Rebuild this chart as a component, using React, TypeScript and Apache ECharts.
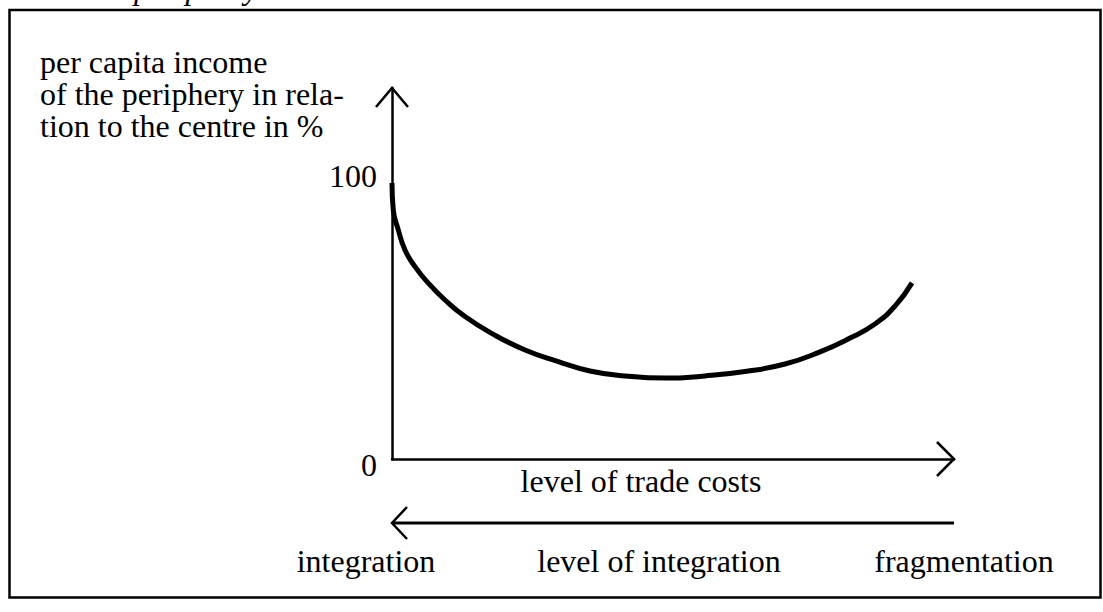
import React, { useEffect, useRef } from 'react';
import * as echarts from 'echarts';

// Curve: per capita income of the periphery (% of centre) vs level of trade costs
const xVals = [0, 0.23, 1.12, 2.31, 4.09, 6.46, 9.43, 12.99, 17.74, 23.67, 29.59, 35.23, 41.46, 48.58, 55.69, 62.81, 69.93, 76.16, 81.49, 85.94, 89.5, 92.53];
const yVals = [100, 90.2, 83.0, 75.7, 69.7, 63.7, 57.6, 51.6, 45.5, 39.5, 35.3, 31.9, 30.1, 29.3, 30.1, 31.7, 34.4, 38.8, 43.8, 48.9, 55.4, 63.8];
const yTickLabels = [0, 100];
const xMax = 100;
const yMax = 134.4;

const titleText = 'periphery';
const yAxisTitle = ['per capita income', 'of the periphery in rela-', 'tion to the centre in %'];
const xAxisTitle = 'level of trade costs';
const lowerLabels = ['integration', 'level of integration', 'fragmentation'];

const FONT = '"Liberation Serif", "Times New Roman", Times, serif';

export default function App() {
  const ref = useRef<HTMLDivElement>(null);
  useEffect(() => {
    const el = ref.current!;
    const chart = echarts.init(el, null, { renderer: 'svg' });
    chart.setOption({
      animation: false,
      grid: { left: 392, right: 149, top: 88, bottom: 153 },
      xAxis: {
        type: 'value', min: 0, max: xMax,
        axisLine: { show: true, lineStyle: { color: '#000', width: 2.5 } },
        axisTick: { show: false }, axisLabel: { show: false }, splitLine: { show: false },
      },
      yAxis: {
        type: 'value', min: 0, max: yMax, interval: 100,
        axisLine: { show: true, lineStyle: { color: '#000', width: 2.5 } },
        axisTick: { show: false }, splitLine: { show: false },
        axisLabel: {
          margin: 15,
          color: '#000',
          fontFamily: FONT,
          fontSize: 32,
          formatter: (v: number) => {
            if (v === yTickLabels[0]) return '{z|' + v + '}';
            if (v === yTickLabels[1]) return '{h|' + v + '}';
            return '';
          },
          rich: {
            z: { fontFamily: FONT, fontSize: 32, color: '#000', padding: [12, 0, 0, 0] },
            h: { fontFamily: FONT, fontSize: 32, color: '#000', padding: [0, 0, 14, 0] },
          },
        },
      },
      series: [{
        type: 'line',
        data: xVals.map((x, i) => [x, yVals[i]]),
        smooth: 0.5,
        symbol: 'none',
        lineStyle: { color: '#000', width: 5, join: 'round' },
      }],
    });

    const o = chart.convertToPixel({ gridIndex: 0 }, [0, 0]) as number[];
    const yTop = chart.convertToPixel({ gridIndex: 0 }, [0, yMax]) as number[];
    const xEnd = chart.convertToPixel({ gridIndex: 0 }, [xMax, 0]) as number[];
    const lowY = 523;

    const txt = (id: string, x: number, y: number, text: string, align: string, vAlign: string, extra: any = {}) => ({
      id, type: 'text', x, y, silent: true,
      style: { text, fill: '#000', fontFamily: FONT, fontSize: 32, textAlign: align, textVerticalAlign: vAlign, ...extra },
    });
    const stroke = { stroke: '#000', lineWidth: 2.5, fill: 'none' };

    chart.setOption({
      graphic: [
        { id: 'frame', type: 'rect', silent: true, shape: { x: 9.5, y: 10, width: 1091, height: 587.5 }, style: { ...stroke } },
        txt('title', 134, -12, titleText, 'left', 'middle', { fontStyle: 'italic' }),
        ...yAxisTitle.map((t, i) => txt('ytitle' + i, 40, 62 + i * 32, t, 'left', 'middle', { lineHeight: 30 })),
        txt('xtitle', 641, 481, xAxisTitle, 'center', 'middle'),
        txt('low0', 366, 561, lowerLabels[0], 'center', 'middle'),
        txt('low1', 659, 561, lowerLabels[1], 'center', 'middle'),
        txt('low2', 964, 561, lowerLabels[2], 'center', 'middle'),
        { id: 'yArrow', type: 'polyline', silent: true, shape: { points: [[yTop[0] - 16, yTop[1] + 19], [yTop[0], yTop[1]], [yTop[0] + 16, yTop[1] + 19]] }, style: { ...stroke } },
        { id: 'xArrow', type: 'polyline', silent: true, shape: { points: [[xEnd[0] - 17, xEnd[1] - 17], [xEnd[0], xEnd[1]], [xEnd[0] - 17, xEnd[1] + 17]] }, style: { ...stroke } },
        { id: 'lowLine', type: 'line', silent: true, shape: { x1: xEnd[0], y1: lowY, x2: o[0], y2: lowY }, style: { ...stroke, lineWidth: 3 } },
        { id: 'lowArrow', type: 'polyline', silent: true, shape: { points: [[o[0] + 15, lowY - 16], [o[0], lowY], [o[0] + 15, lowY + 16]] }, style: { ...stroke } },
      ],
    });

    return () => chart.dispose();
  }, []);
  return <div ref={ref} style={{ position: 'absolute', left: 0, top: 0, width: 1103, height: 612, background: '#fff' }} />;
}
